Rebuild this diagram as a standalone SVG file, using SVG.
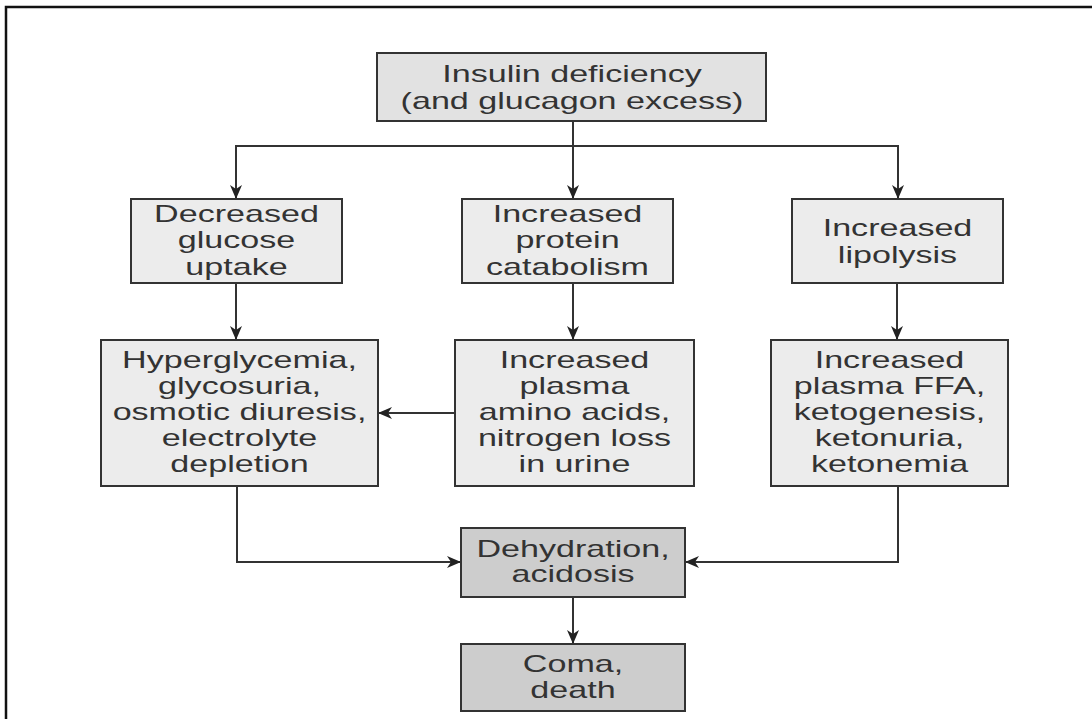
<svg xmlns="http://www.w3.org/2000/svg" width="1092" height="719" viewBox="0 0 1092 719">
<style>
.box{stroke:#333;stroke-width:2}
.b1{fill:#e2e2e2}
.b2{fill:#ececec}
.b3{fill:#cdcdcd}
.t{font-family:"Liberation Sans",Arial,sans-serif;font-size:24px;fill:#333;text-anchor:middle}
.c{fill:none;stroke:#333;stroke-width:2}
.frame{fill:none;stroke:#111;stroke-width:2.5}
</style>
<defs>
<marker id="ah" markerUnits="userSpaceOnUse" markerWidth="14" markerHeight="12" viewBox="0 0 14 12" refX="14" refY="6" orient="auto">
<path d="M0,0 L14,6 L0,12 L4,6 z" fill="#222"/>
</marker>
</defs>
<rect width="1092" height="719" fill="#fff"/>
<path class="frame" d="M6,719 L6,7 L1092,7"/>

<g id="connectors">
<path class="c" d="M573,121 L573,199" marker-end="url(#ah)"/>
<path class="c" d="M236,199 L236,146 L898,146 L898,199" marker-end="url(#ah)"/>
<path class="c" d="M236,146 L236,199" marker-end="url(#ah)"/>
<path class="c" d="M236,283 L236,340" marker-end="url(#ah)"/>
<path class="c" d="M573,283 L573,340" marker-end="url(#ah)"/>
<path class="c" d="M897,283 L897,340" marker-end="url(#ah)"/>
<path class="c" d="M455,413 L378,413" marker-end="url(#ah)"/>
<path class="c" d="M237,486 L237,562 L461,562" marker-end="url(#ah)"/>
<path class="c" d="M898,486 L898,562 L685,562" marker-end="url(#ah)"/>
<path class="c" d="M573,597 L573,644" marker-end="url(#ah)"/>
</g>

<g id="insulin">
<rect class="box b1" x="377" y="53" width="389" height="68"/>
<g transform="translate(572,0) scale(1.42,1)">
<text class="t" x="0" y="82">Insulin deficiency</text>
<text class="t" x="0" y="109">(and glucagon excess)</text>
</g>
</g>

<g id="glucose">
<rect class="box b2" x="131" y="199" width="211" height="84"/>
<g transform="translate(236.5,0) scale(1.42,1)">
<text class="t" x="0" y="222">Decreased</text>
<text class="t" x="0" y="248.5">glucose</text>
<text class="t" x="0" y="275">uptake</text>
</g>
</g>

<g id="protein">
<rect class="box b2" x="462" y="199" width="211" height="84"/>
<g transform="translate(567.5,0) scale(1.42,1)">
<text class="t" x="0" y="222">Increased</text>
<text class="t" x="0" y="248.5">protein</text>
<text class="t" x="0" y="275">catabolism</text>
</g>
</g>

<g id="lipolysis">
<rect class="box b2" x="792" y="199" width="211" height="84"/>
<g transform="translate(897.5,0) scale(1.42,1)">
<text class="t" x="0" y="236.5">Increased</text>
<text class="t" x="0" y="263">lipolysis</text>
</g>
</g>

<g id="hyperglycemia">
<rect class="box b2" x="101" y="340" width="277" height="146"/>
<g transform="translate(239.5,0) scale(1.42,1)">
<text class="t" x="0" y="368">Hyperglycemia,</text>
<text class="t" x="0" y="394">glycosuria,</text>
<text class="t" x="0" y="420">osmotic diuresis,</text>
<text class="t" x="0" y="446">electrolyte</text>
<text class="t" x="0" y="472">depletion</text>
</g>
</g>

<g id="aminoacids">
<rect class="box b2" x="455" y="340" width="239" height="146"/>
<g transform="translate(574.5,0) scale(1.42,1)">
<text class="t" x="0" y="368">Increased</text>
<text class="t" x="0" y="394">plasma</text>
<text class="t" x="0" y="420">amino acids,</text>
<text class="t" x="0" y="446">nitrogen loss</text>
<text class="t" x="0" y="472">in urine</text>
</g>
</g>

<g id="ffa">
<rect class="box b2" x="771" y="340" width="237" height="146"/>
<g transform="translate(889.5,0) scale(1.42,1)">
<text class="t" x="0" y="368">Increased</text>
<text class="t" x="0" y="394">plasma FFA,</text>
<text class="t" x="0" y="420">ketogenesis,</text>
<text class="t" x="0" y="446">ketonuria,</text>
<text class="t" x="0" y="472">ketonemia</text>
</g>
</g>

<g id="dehydration">
<rect class="box b3" x="461" y="528" width="224" height="69"/>
<g transform="translate(573,0) scale(1.42,1)">
<text class="t" x="0" y="557">Dehydration,</text>
<text class="t" x="0" y="582">acidosis</text>
</g>
</g>

<g id="coma">
<rect class="box b3" x="461" y="644" width="224" height="67"/>
<g transform="translate(573,0) scale(1.42,1)">
<text class="t" x="0" y="672">Coma,</text>
<text class="t" x="0" y="698">death</text>
</g>
</g>
</svg>
